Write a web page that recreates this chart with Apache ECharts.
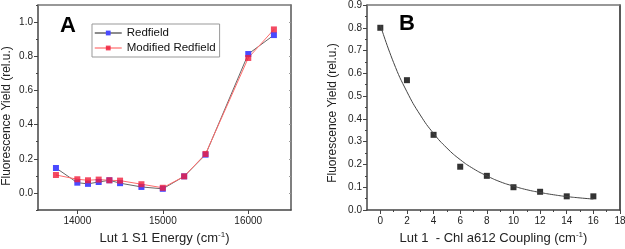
<!DOCTYPE html>
<html><head><meta charset="utf-8">
<script src="https://cdn.jsdelivr.net/npm/echarts@6/dist/echarts.min.js"></script>
<style>html,body{margin:0;padding:0;background:#fff}#c{width:625px;height:249px}</style>
</head><body><div id="c"></div>
<script>
// Panel A data
const energyA = [13750, 14000, 14125, 14250, 14375, 14500, 14750, 15000, 15250, 15500, 16000, 16300];
const redfield = [0.146, 0.060, 0.053, 0.064, 0.074, 0.057, 0.035, 0.024, 0.097, 0.224, 0.813, 0.924];
const modifiedRedfield = [0.105, 0.080, 0.074, 0.078, 0.074, 0.072, 0.051, 0.030, 0.097, 0.228, 0.790, 0.957];
const ticksAx = [14000, 15000, 16000];
const ticksAy = [0, 0.2, 0.4, 0.6, 0.8, 1.0];
const minorAy = [-0.1, 0.1, 0.3, 0.5, 0.7, 0.9, 1.1];
// Panel B data
const couplingB = [0, 2, 4, 6, 8, 10, 12, 14, 16];
const yieldB = [0.80, 0.57, 0.33, 0.19, 0.15, 0.10, 0.08, 0.06, 0.06];
const fitX = [0, 1, 2, 3, 4, 5, 6, 7, 8, 9, 10, 11, 12, 13, 14, 15, 16];
const fitY = [0.812, 0.647, 0.519, 0.417, 0.336, 0.272, 0.221, 0.181, 0.150, 0.124, 0.105, 0.089, 0.077, 0.067, 0.059, 0.053, 0.048];
const ticksBx = [0, 2, 4, 6, 8, 10, 12, 14, 16, 18];
const minorBx = [1, 3, 5, 7, 9, 11, 13, 15, 17];
const yTitle = 'Fluorescence Yield (rel.u.)';

const F = 'Liberation Sans, Arial, sans-serif';
const lineC = '#444';
const lbl = {fontFamily: F, fontSize: 10, color: '#222'};
const zip = (a, b) => a.map((v, i) => [v, b[i]]);
const nameRich = {
  a: {fontFamily: F, fontSize: 13, color: '#222', lineHeight: 16},
  s: {fontFamily: F, fontSize: 8, color: '#222', verticalAlign: 'top', lineHeight: 16}
};

const chart = echarts.init(document.getElementById('c'), null, {renderer: 'canvas'});
chart.setOption({
  animation: false,
  textStyle: {fontFamily: F},
  grid: [
    {left: 38, right: 334, top: 5, bottom: 39, containLabel: false, outerBoundsMode: 'none'},
    {left: 367, right: 5, top: 5, bottom: 39, containLabel: false, outerBoundsMode: 'none'}
  ],
  legend: {
    data: [
      {name: 'Redfield', itemStyle: {color: '#4a4aff'}, lineStyle: {color: '#666', width: 1.5}},
      {name: 'Modified Redfield', itemStyle: {color: 'rgba(240,30,60,0.85)'}, lineStyle: {color: '#ff8a8a', width: 1.5}}
    ],
    orient: 'vertical', left: 92, top: 24,
    itemWidth: 27, itemHeight: 6, itemGap: 3,
    borderColor: '#999', borderWidth: 1, borderRadius: 0,
    padding: [3, 4, 3, 2],
    textStyle: {fontFamily: F, fontSize: 11.5, color: '#111'}
  },
  xAxis: [
    {type: 'value', gridIndex: 0, min: 13540, max: 16500, position: 'bottom',
     name: '{a|Lut 1 S1 Energy (cm}{s|-1}{a|)}', nameLocation: 'middle', nameGap: 20,
     nameTextStyle: {rich: nameRich},
     axisLine: {show: true, onZero: false, lineStyle: {color: lineC, width: 1.5}},
     axisTick: {show: true, inside: false, length: 4, customValues: ticksAx, lineStyle: {color: lineC}},
     axisLabel: {customValues: ticksAx, ...lbl, margin: 6, formatter: v => String(v)},
     splitLine: {show: false}},
    {type: 'value', gridIndex: 0, min: 13540, max: 16500, position: 'top',
     axisLine: {show: true, onZero: false, lineStyle: {color: '#777', width: 1.5}},
     axisTick: {show: false}, axisLabel: {show: false}, splitLine: {show: false}},
    {type: 'value', gridIndex: 1, min: -1, max: 18, position: 'bottom',
     name: '{a|Lut 1  - Chl a612 Coupling (cm}{s|-1}{a|)}', nameLocation: 'middle', nameGap: 17,
     nameTextStyle: {rich: nameRich},
     axisLine: {show: true, onZero: false, lineStyle: {color: lineC, width: 1.5}},
     axisTick: {show: true, inside: false, length: 4, customValues: ticksBx, lineStyle: {color: lineC}},
     axisLabel: {customValues: ticksBx, ...lbl, margin: 6, formatter: v => String(v)},
     splitLine: {show: false}},
    {type: 'value', gridIndex: 1, min: -1, max: 18, position: 'bottom',
     axisLine: {show: false}, axisLabel: {show: false}, splitLine: {show: false},
     axisTick: {show: true, inside: false, length: 2, customValues: minorBx, lineStyle: {color: lineC}}},
    {type: 'value', gridIndex: 1, min: -1, max: 18, position: 'top',
     axisLine: {show: true, onZero: false, lineStyle: {color: '#777', width: 1.5}},
     axisTick: {show: false}, axisLabel: {show: false}, splitLine: {show: false}}
  ],
  yAxis: [
    {type: 'value', gridIndex: 0, min: -0.1, max: 1.1, position: 'left',
     axisLine: {show: true, onZero: false, lineStyle: {color: lineC, width: 1.5}},
     axisTick: {show: true, length: 4, customValues: ticksAy, lineStyle: {color: lineC}},
     axisLabel: {customValues: ticksAy, ...lbl, margin: 5, formatter: v => v.toFixed(1)},
     splitLine: {show: false}},
    {type: 'value', gridIndex: 0, min: -0.1, max: 1.1, position: 'left',
     axisLine: {show: false}, axisLabel: {show: false}, splitLine: {show: false},
     axisTick: {show: true, length: 2, customValues: minorAy, lineStyle: {color: lineC}}},
    {type: 'value', gridIndex: 0, min: -0.1, max: 1.1, position: 'right',
     axisLine: {show: true, onZero: false, lineStyle: {color: '#555', width: 1.5}},
     axisTick: {show: true, inside: true, length: 2, customValues: [0, 0.1, 0.2, 0.3, 0.4, 0.5, 0.6, 0.7, 0.8, 0.9, 1.0], lineStyle: {color: '#999'}},
     axisLabel: {show: false}, splitLine: {show: false}},
    {type: 'value', gridIndex: 1, min: 0, max: 0.9, interval: 0.1, position: 'left',
     axisLine: {show: true, onZero: false, lineStyle: {color: lineC, width: 1.5}},
     axisTick: {show: true, length: 4, lineStyle: {color: lineC}},
     minorTick: {show: true, splitNumber: 2, length: 2, lineStyle: {color: lineC}},
     axisLabel: {...lbl, margin: 5, formatter: v => v.toFixed(1)},
     splitLine: {show: false}},
    {type: 'value', gridIndex: 1, min: 0, max: 0.9, interval: 0.1, position: 'right',
     axisLine: {show: true, onZero: false, lineStyle: {color: '#222', width: 1.5}},
     axisTick: {show: false}, axisLabel: {show: false}, splitLine: {show: false}}
  ],
  graphic: [
    {type: 'text', left: 60, top: 15, style: {text: 'A', font: 'bold 22px ' + F, fill: '#000'}},
    {type: 'text', left: 399, top: 13, style: {text: 'B', font: 'bold 22px ' + F, fill: '#000'}},
    {type: 'text', x: 7, y: 116, rotation: Math.PI / 2,
     style: {text: yTitle, font: '12px ' + F, fill: '#222', align: 'center', verticalAlign: 'middle'}},
    {type: 'text', x: 333, y: 113, rotation: Math.PI / 2,
     style: {text: yTitle, font: '12px ' + F, fill: '#222', align: 'center', verticalAlign: 'middle'}}
  ],
  series: [
    {name: 'Redfield', type: 'line', xAxisIndex: 0, yAxisIndex: 0, data: zip(energyA, redfield),
     symbol: 'rect', symbolSize: 6, showAllSymbol: true,
     lineStyle: {color: '#666', width: 1}, itemStyle: {color: '#4a4aff'}},
    {name: 'Modified Redfield', type: 'line', xAxisIndex: 0, yAxisIndex: 0, data: zip(energyA, modifiedRedfield),
     symbol: 'rect', symbolSize: 6, showAllSymbol: true,
     lineStyle: {color: '#ff6b6b', width: 1}, itemStyle: {color: 'rgba(240,30,60,0.8)'}},
    {name: 'fit', type: 'line', xAxisIndex: 2, yAxisIndex: 3, data: zip(fitX, fitY),
     smooth: true, showSymbol: false, symbol: 'none',
     lineStyle: {color: '#444', width: 1}},
    {name: 'data', type: 'scatter', xAxisIndex: 2, yAxisIndex: 3, data: zip(couplingB, yieldB),
     symbol: 'rect', symbolSize: 6, itemStyle: {color: '#000'}}
  ]
});
</script></body></html>
